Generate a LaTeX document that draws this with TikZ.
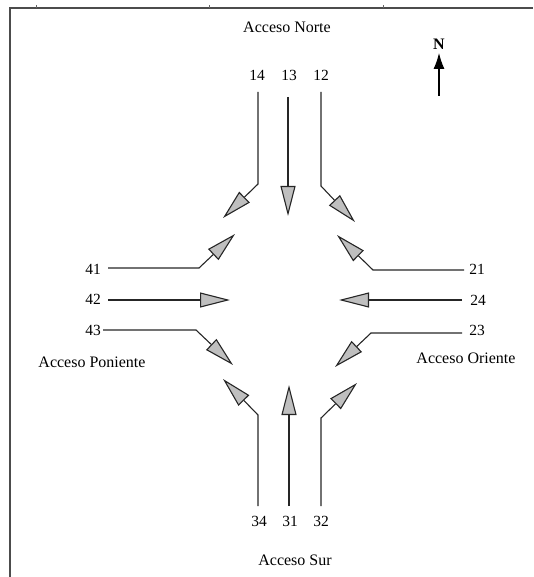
\documentclass[tikz,border=0pt]{standalone}
\usepackage{fontspec}
\setmainfont{Liberation Serif}
\usetikzlibrary{arrows.meta}
\tikzstyle{flow} = [-{Triangle[length=30pt,width=15pt,fill=black!25]},line width=1.1pt,draw=black!85]
\tikzstyle{num} = [font=\fontsize{15.5}{18}\selectfont,inner sep=1pt]
\tikzstyle{access} = [font=\fontsize{16}{19}\selectfont,inner sep=1pt]

\begin{document}
\begin{tikzpicture}[x=1pt,y=-1pt]
      \useasboundingbox (0,0) rectangle (533,577);

      % frame
      \draw[line width=2.2pt,black!70] (10,577) -- (10,8) -- (533,8);
      \foreach \tx in {36,209,383}
        \draw[line width=0.8pt,black!60] (\tx,5) -- (\tx,8);

      % access names
      \node[access] (norte) at (287,27) {Acceso Norte};
      \node[access] (poniente) at (92,362) {Acceso Poniente};
      \node[access] (oriente) at (466,358) {Acceso Oriente};
      \node[access] (sur) at (295,560) {Acceso Sur};

      % north sign
      \node[font=\fontsize{16}{19}\selectfont\bfseries,inner sep=1pt] (n) at (439,44) {N};
      \coordinate (nfoot) at (439,96);
      \coordinate (ntip) at (439,53);
      \draw[-{Latex[length=16pt,width=11pt]},line width=1.1pt] (nfoot) -- (ntip);

      % movement numbers
      \node[num] (l14) at (257,75) {14};
      \node[num] (l13) at (289,75) {13};
      \node[num] (l12) at (321,75) {12};
      \node[num] (l41) at (93,269) {41};
      \node[num] (l42) at (93,299) {42};
      \node[num] (l43) at (93,330) {43};
      \node[num] (l21) at (477,269) {21};
      \node[num] (l24) at (478,300) {24};
      \node[num] (l23) at (477,330) {23};
      \node[num] (l34) at (259,521) {34};
      \node[num] (l31) at (290,521) {31};
      \node[num] (l32) at (321,521) {32};

      % north approach
      \coordinate (s14) at (258,92);  \coordinate (b14) at (258,184); \coordinate (t14) at (223,218);
      \coordinate (s13) at (288,97);  \coordinate (t13) at (288,216);
      \coordinate (s12) at (321,92);  \coordinate (b12) at (321,186); \coordinate (t12) at (355,222);
      % west approach
      \coordinate (s41) at (108,268); \coordinate (b41) at (199,268); \coordinate (t41) at (235,234);
      \coordinate (s42) at (108,300); \coordinate (t42) at (230,300);
      \coordinate (s43) at (103,330); \coordinate (b43) at (196,330); \coordinate (t43) at (233,365);
      % east approach
      \coordinate (s21) at (464,270); \coordinate (b21) at (373,270); \coordinate (t21) at (337,235);
      \coordinate (s24) at (462,300); \coordinate (t24) at (339,300);
      \coordinate (s23) at (462,333); \coordinate (b23) at (371,333); \coordinate (t23) at (335,367);
      % south approach
      \coordinate (s34) at (258,506); \coordinate (b34) at (258,415); \coordinate (t34) at (223,379);
      \coordinate (s31) at (289,506); \coordinate (t31) at (289,385);
      \coordinate (s32) at (321,506); \coordinate (b32) at (321,418); \coordinate (t32) at (357,383);

      \draw[flow] (s14) -- (b14) -- (t14);
      \draw[flow] (s13) -- (t13);
      \draw[flow] (s12) -- (b12) -- (t12);
      \draw[flow] (s41) -- (b41) -- (t41);
      \draw[flow] (s42) -- (t42);
      \draw[flow] (s43) -- (b43) -- (t43);
      \draw[flow] (s21) -- (b21) -- (t21);
      \draw[flow] (s24) -- (t24);
      \draw[flow] (s23) -- (b23) -- (t23);
      \draw[flow] (s34) -- (b34) -- (t34);
      \draw[flow] (s31) -- (t31);
      \draw[flow] (s32) -- (b32) -- (t32);
    \end{tikzpicture}
\end{document}
